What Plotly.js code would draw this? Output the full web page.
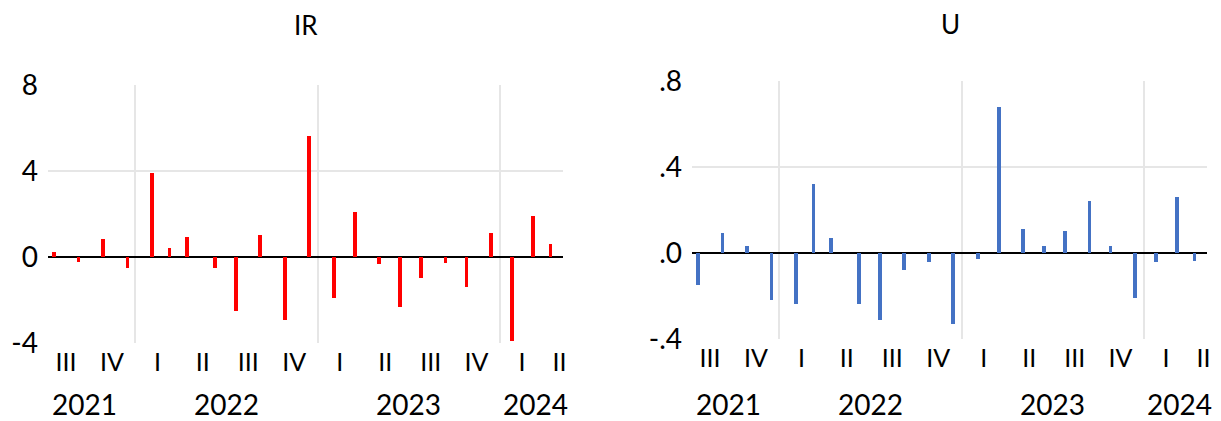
<!DOCTYPE html>
<html>
<head>
<meta charset="utf-8">
<script src="https://cdn.plot.ly/plotly-3.0.1.min.js"></script>
<style>
  html, body { margin: 0; padding: 0; background: #ffffff; }
  #chart { width: 1221px; height: 421px; }
</style>
</head>
<body>
<div id="chart"></div>
<script>
// Policy meeting dates (one spike per meeting)
const meetingDates = [
  '2021-07-22', '2021-09-09', '2021-10-28', '2021-12-16',
  '2022-02-03', '2022-03-10', '2022-04-14', '2022-06-09',
  '2022-07-21', '2022-09-08', '2022-10-27', '2022-12-15',
  '2023-02-02', '2023-03-16', '2023-05-04', '2023-06-15',
  '2023-07-27', '2023-09-14', '2023-10-26', '2023-12-14',
  '2024-01-25', '2024-03-07', '2024-04-11'
];

// IR series
const irValues = [
  0.23, -0.26, 0.84, -0.54,
  3.88, 0.40, 0.93, -0.54,
  -2.53, 1.02, -2.95, 5.61,
  -1.94, 2.06, -0.36, -2.36,
  -0.98, -0.28, -1.40, 1.10,
  -3.92, 1.89, 0.59
];

// U series
const uValues = [
  -0.150, 0.091, 0.033, -0.220,
  -0.237, 0.318, 0.067, -0.237,
  -0.315, -0.081, -0.045, -0.332,
  -0.029, 0.679, 0.109, 0.031,
  0.101, 0.239, 0.031, -0.212,
  -0.045, 0.257, -0.037
];

// Quarter labels, placed mid-quarter
const quarterTickVals = [
  '2021-08-15', '2021-11-15',
  '2022-02-14', '2022-05-16', '2022-08-15', '2022-11-15',
  '2023-02-14', '2023-05-16', '2023-08-15', '2023-11-15',
  '2024-02-14', '2024-04-29'
];
const quarterTickText = ['III', 'IV', 'I', 'II', 'III', 'IV', 'I', 'II', 'III', 'IV', 'I', 'II'];

// Year labels under the quarter labels
const yearLabelPos = ['2021-09-22', '2022-07-02', '2023-07-02', '2024-03-12'];
const yearLabelText = ['2021', '2022', '2023', '2024'];

// Year boundaries (vertical grid)
const yearStarts = ['2022-01-01', '2023-01-01', '2024-01-01'];

// Left axis ticks
const irTickVals = [-4, 0, 4, 8];
const irTickText = ['-4', '0', '4', '8'];
// Right axis ticks
const uTickVals = [-0.4, 0, 0.4, 0.8];
const uTickText = ['-.4', '.0', '.4', '.8'];

const FONT = 'Lato, "Open Sans", sans-serif';
const GRID = '#e6e6e6';
const DAY = 86400000;
const xRange = ['2021-07-10', '2024-05-06'];

const traces = [
  {
    type: 'bar', x: meetingDates, y: irValues,
    width: meetingDates.map(() => 7.4 * DAY),
    marker: { color: '#ff0000', line: { width: 0 } },
    xaxis: 'x', yaxis: 'y', hoverinfo: 'x+y'
  },
  {
    type: 'bar', x: meetingDates, y: uValues,
    width: meetingDates.map(() => 7.4 * DAY),
    marker: { color: '#4472c4', line: { width: 0 } },
    xaxis: 'x2', yaxis: 'y2', hoverinfo: 'x+y'
  }
];

function xAxis(domain, anchor) {
  return {
    type: 'date', domain: domain, anchor: anchor, range: xRange,
    tickmode: 'array', tickvals: quarterTickVals, ticktext: quarterTickText,
    showgrid: false, zeroline: false, showline: false, ticks: '',
    tickfont: { family: FONT, size: 25, color: '#000' },
    ticklabelstandoff: 2,
    minor: { tickvals: yearStarts, showgrid: true, gridcolor: GRID, gridwidth: 2, ticks: '' }
  };
}

function yAxis(domain, anchor, range, vals, text, gridAt) {
  return {
    domain: domain, anchor: anchor, range: range,
    tickmode: 'array', tickvals: vals, ticktext: text,
    showgrid: false, showline: false, ticks: '',
    zeroline: true, zerolinecolor: '#000', zerolinewidth: 2,
    tickfont: { family: FONT, size: 28, color: '#000' },
    ticklabelstandoff: 9,
    minor: { tickvals: gridAt, showgrid: true, gridcolor: GRID, gridwidth: 2, ticks: '' }
  };
}

const annotations = [];
// Panel titles
annotations.push({ text: 'IR', xref: 'paper', yref: 'paper', x: 306 / 1221, y: 1 - 25.5 / 421,
  xanchor: 'center', yanchor: 'middle', showarrow: false, font: { family: FONT, size: 26, color: '#000' } });
annotations.push({ text: 'U', xref: 'paper', yref: 'paper', x: 950 / 1221, y: 1 - 24 / 421,
  xanchor: 'center', yanchor: 'middle', showarrow: false, font: { family: FONT, size: 26, color: '#000' } });
// Year labels for both panels
['x', 'x2'].forEach(ax => {
  yearLabelPos.forEach((d, i) => {
    annotations.push({ text: yearLabelText[i], xref: ax, yref: 'paper', x: d, y: 1 - 404 / 421,
      xanchor: 'center', yanchor: 'middle', showarrow: false, borderpad: 0,
      font: { family: FONT, size: 28, color: '#000' } });
  });
});

const layout = {
  width: 1221, height: 421,
  margin: { l: 0, r: 0, t: 0, b: 0 },
  paper_bgcolor: '#ffffff', plot_bgcolor: '#ffffff',
  showlegend: false, bargap: 0,
  font: { family: FONT, color: '#000' },
  xaxis: xAxis([48 / 1221, 563 / 1221], 'y'),
  xaxis2: xAxis([692 / 1221, 1207 / 1221], 'y2'),
  yaxis: yAxis([1 - 342.7 / 421, 1 - 84.7 / 421], 'x', [-4, 8], irTickVals, irTickText, [4]),
  yaxis2: yAxis([1 - 338.7 / 421, 1 - 80.7 / 421], 'x2', [-0.4, 0.8], uTickVals, uTickText, [0.4]),
  annotations: annotations
};

Plotly.newPlot('chart', traces, layout, { displayModeBar: false, staticPlot: true });
</script>
</body>
</html>
